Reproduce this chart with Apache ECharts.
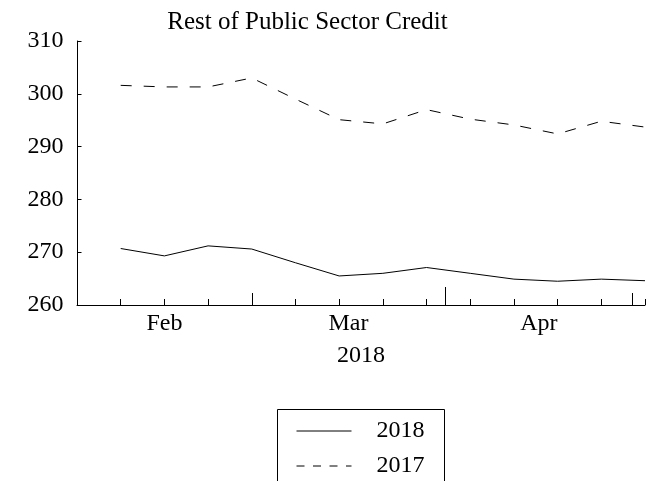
<!DOCTYPE html>
<html>
<head>
<meta charset="utf-8">
<script src="https://cdn.jsdelivr.net/npm/echarts@6/dist/echarts.min.js"></script>
<style>
html,body{margin:0;padding:0;background:#fff;}
#chart{width:657px;height:481px;}
</style>
</head>
<body>
<div id="chart"></div>
<script>
// ---- data ----
const titleText = 'Rest of Public Sector Credit';
const xAxisTitle = '2018';
const dates = ['2018-01-25','2018-02-01','2018-02-08','2018-02-15','2018-02-22','2018-03-01','2018-03-08',
               '2018-03-15','2018-03-22','2018-03-29','2018-04-05','2018-04-12','2018-04-19'];
const series2018 = [270.7, 269.3, 271.2, 270.6, 268.0, 265.5, 266.0, 267.1, 266.0, 264.9, 264.5, 264.9, 264.6];
const series2017 = [301.6, 301.3, 301.3, 303.0, 299.0, 295.1, 294.3, 297.0, 295.2, 294.1, 292.4, 294.8, 293.7];
const seriesNames = ['2018', '2017'];
const xStart = '2018-01-18';
const xEnd = '2018-04-19';
const monthLabelDates = ['2018-02-01', '2018-03-02T12:00:00', '2018-04-02'];
const monthLabels = ['Feb', 'Mar', 'Apr'];
const weeklyTickDates = ['2018-01-25','2018-02-01','2018-02-08','2018-02-15','2018-02-22','2018-03-01','2018-03-08',
               '2018-03-15','2018-03-22','2018-03-29','2018-04-05','2018-04-12','2018-04-19'];
const midTickDates = ['2018-02-15', '2018-04-17'];
const longTickDates = ['2018-03-18'];
const yTicks = [260, 270, 280, 290, 300, 310];

// ---- helpers ----
const toTs = d => Date.parse(d + (d.length === 10 ? 'T00:00:00Z' : 'Z'));
const labelTs = monthLabelDates.map(toTs);
const FONT = "'Liberation Serif', 'DejaVu Serif', serif";

const chart = echarts.init(document.getElementById('chart'), null, {renderer: 'canvas'});

const hiddenAxisBase = {
  type: 'value', min: toTs(xStart), max: toTs(xEnd), position: 'bottom',
  axisLine: {show: false}, axisLabel: {show: false}, splitLine: {show: false}
};

chart.setOption({
  animation: false,
  backgroundColor: '#fff',
  title: {
    text: titleText, left: 307.5, top: 10, textAlign: 'center', padding: 0,
    textStyle: {fontFamily: FONT, fontSize: 25, fontWeight: 'normal', color: '#000'}
  },
  grid: {left: 77, right: 12, top: 41, bottom: 176, containLabel: false},
  graphic: [{
    type: 'rect', silent: true, z: 10,
    shape: {x: 277.5, y: 409.5, width: 167, height: 100},
    style: {fill: 'none', stroke: '#000', lineWidth: 1}
  }],
  legend: {
    orient: 'vertical', left: 277, top: 411,
    padding: [8, 20, 0, 19],
    itemWidth: 55, itemHeight: 14, itemGap: 11,
    itemStyle: {opacity: 0, borderWidth: 0},
    textStyle: {fontFamily: FONT, fontSize: 24, color: '#000', lineHeight: 24, padding: [0, 0, 0, 20]},
    data: [
      {name: seriesNames[0], lineStyle: {color: '#000', width: 1, type: 'solid'}},
      {name: seriesNames[1], lineStyle: {color: '#000', width: 1, type: [8, 8.5]}}
    ]
  },
  xAxis: [
    {
      type: 'value', min: toTs(xStart), max: toTs(xEnd), position: 'bottom',
      name: xAxisTitle, nameLocation: 'middle', nameGap: 38.5,
      nameTextStyle: {fontFamily: FONT, fontSize: 24, color: '#000'},
      axisLine: {show: true, onZero: false, lineStyle: {color: '#000', width: 1}},
      axisTick: {show: true, inside: true, length: 6, customValues: weeklyTickDates.map(toTs), lineStyle: {color: '#000', width: 1}},
      axisLabel: {
        show: true, margin: 7, customValues: labelTs,
        fontFamily: FONT, fontSize: 24, color: '#000',
        formatter: v => {
          const i = labelTs.findIndex(t => Math.abs(t - v) < 1000);
          return i >= 0 ? monthLabels[i] : '';
        }
      },
      splitLine: {show: false}
    },
    Object.assign({}, hiddenAxisBase, {
      axisTick: {show: true, inside: true, length: 12, customValues: midTickDates.map(toTs), lineStyle: {color: '#000', width: 1}}
    }),
    Object.assign({}, hiddenAxisBase, {
      axisTick: {show: true, inside: true, length: 18, customValues: longTickDates.map(toTs), lineStyle: {color: '#000', width: 1}}
    })
  ],
  yAxis: {
    type: 'value', min: yTicks[0], max: yTicks[yTicks.length - 1], interval: 10,
    axisLine: {show: true, lineStyle: {color: '#000', width: 1}},
    axisTick: {show: true, inside: true, length: 4.5, lineStyle: {color: '#000', width: 1}},
    axisLabel: {margin: 13.5, fontFamily: FONT, fontSize: 24, color: '#000'},
    splitLine: {show: false}
  },
  series: [
    {
      name: seriesNames[0], type: 'line', xAxisIndex: 0, symbol: 'none', showSymbol: false,
      lineStyle: {color: '#000', width: 1, type: 'solid'}, itemStyle: {color: '#000'},
      data: dates.map((d, i) => [toTs(d), series2018[i]])
    },
    {
      name: seriesNames[1], type: 'line', xAxisIndex: 0, symbol: 'none', showSymbol: false,
      lineStyle: {color: '#000', width: 1, type: [11, 12]}, itemStyle: {color: '#000'},
      data: dates.map((d, i) => [toTs(d), series2017[i]])
    }
  ]
});
</script>
</body>
</html>
